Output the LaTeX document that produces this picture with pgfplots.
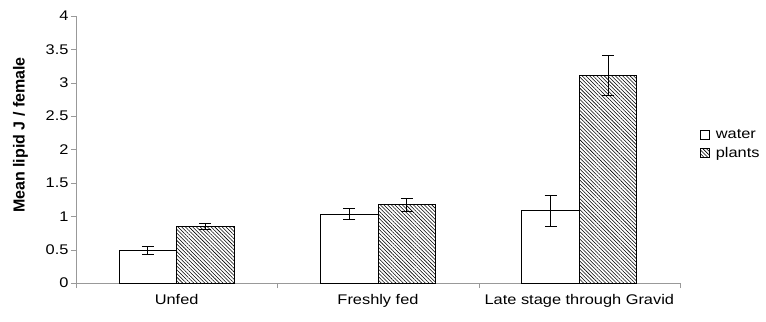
\documentclass[border=0pt]{standalone}
\usepackage{pgfplots}
\pgfplotsset{compat=1.18}
\usepackage{fontspec}
\setmainfont[FakeStretch=1.17]{Liberation Sans}
\newfontfamily\ylabfont{Liberation Sans}
\usetikzlibrary{patterns.meta}
\begin{document}
\begin{tikzpicture}
\begin{axis}[
  name=ax,
  scale only axis,
  width=604pt, height=267pt,
  xmin=-0.5, xmax=2.5, ymin=0, ymax=4,
  ybar=0pt, bar width=57.5pt,
  axis lines=left,
  axis line style={draw=gray!80, -},
  xtick={0,1,2},
  xticklabels={Unfed, Freshly fed, Late stage through Gravid},
  major x tick style={draw=none},
  minor xtick={-0.5,0.5,1.5,2.5},
  minor x tick style={draw=gray!80},
  minor tick length=5pt,
  ytick={0,0.5,1,1.5,2,2.5,3,3.5,4},
  y tick style={draw=gray!80},
  major tick length=5pt,
  tick align=outside,
  /pgf/number format/assume math mode=true,
  tick label style={font=\fontsize{14}{16}\selectfont, black},
  yticklabel style={/pgf/number format/fixed, xshift=1pt},
  xticklabel style={yshift=-3pt},
  ylabel={\ylabfont\bfseries Mean lipid J / female},
  ylabel style={at={(axis description cs:-0.092,0.554)}, anchor=center, rotate=0, font=\fontsize{16}{18}\selectfont},
  legend style={at={(1.033,0.52)}, anchor=west, draw=none, fill=none, font=\fontsize{14}{16}\selectfont, row sep=3pt, inner xsep=0pt,
    /tikz/every odd column/.append style={column sep=4pt}},
  legend image code/.code={\draw[#1, line width=0.7pt] (0pt,-4.5pt) rectangle (9pt,4.5pt);},
  legend cell align=left,
  clip=false,
]
\addplot[draw=black, line width=0.9pt, fill=white,
  error bars/.cd, y dir=both, y explicit,
  error bar style={line width=0.9pt, black},
  error mark options={rotate=90, mark size=6pt, line width=0.9pt, black}]
  coordinates {(0,0.49) +- (0,0.06) (1,1.03) +- (0,0.08) (2,1.08) +- (0,0.23)};
\addlegendentry{water}
\addplot[draw=black, line width=0.9pt, pattern={Lines[angle=-45,distance=2.6pt,line width=0.55pt]},
  error bars/.cd, y dir=both, y explicit,
  error bar style={line width=0.9pt, black},
  error mark options={rotate=90, mark size=6pt, line width=0.9pt, black}]
  coordinates {(0,0.85) +- (0,0.045) (1,1.17) +- (0,0.10) (2,3.11) +- (0,0.30)};
\addlegendentry{plants}
\end{axis}
\pgfresetboundingbox
\path ([shift={(-76pt,-38pt)}]ax.south west) rectangle ([shift={(86pt,16pt)}]ax.north east);
\end{tikzpicture}
\end{document}
